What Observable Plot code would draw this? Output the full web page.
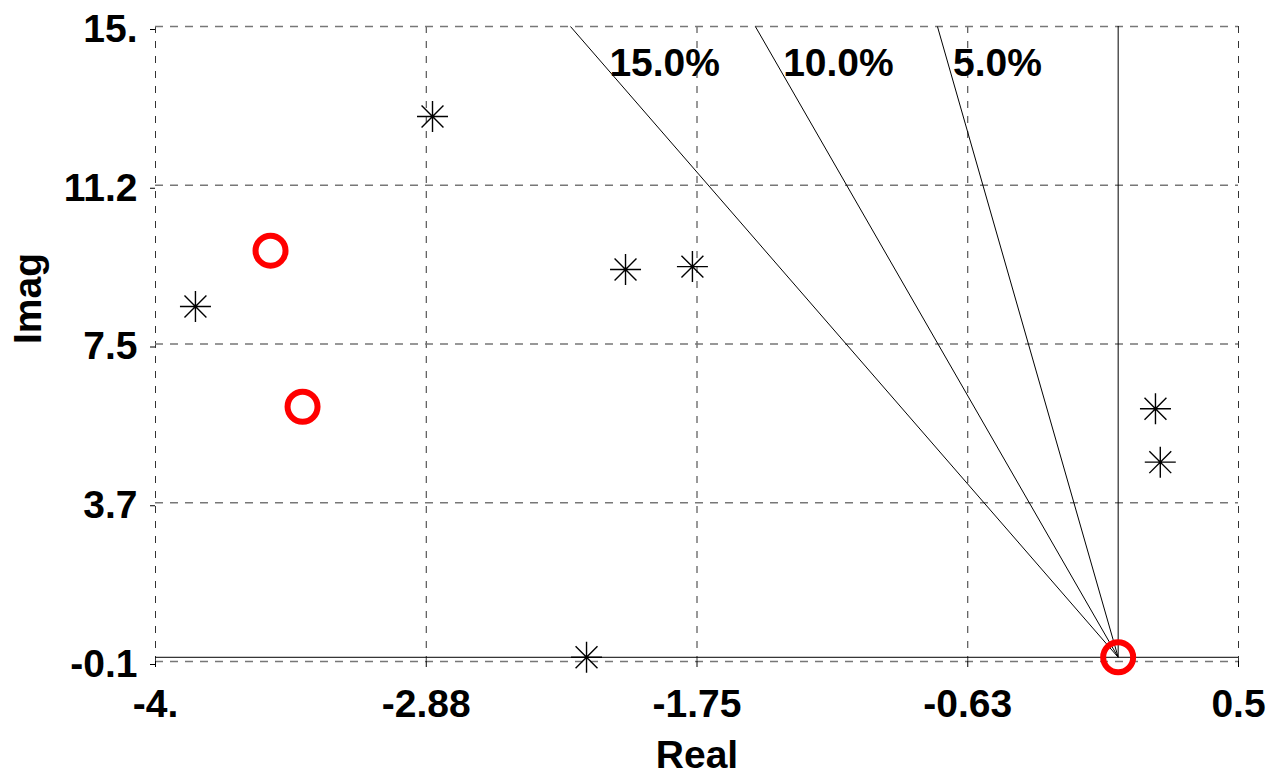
<!DOCTYPE html>
<html>
<head>
<meta charset="utf-8">
<script src="https://cdn.jsdelivr.net/npm/d3@7"></script>
<script src="https://cdn.jsdelivr.net/npm/@observablehq/plot@0.6"></script>
<style>
  html, body { margin: 0; padding: 0; background: #fff; }
  #chart svg { display: block; }
</style>
</head>
<body>
<div id="chart"></div>
<script>
// Axis ticks and labels
const xTicks = [-4, -2.875, -1.75, -0.625, 0.5];
const xTickLabels = ["-4.", "-2.88", "-1.75", "-0.63", "0.5"];
const yTicks = [-0.1, 3.675, 7.45, 11.225, 15];
const yTickLabels = ["-0.1", "3.7", "7.5", "11.2", "15."];

// Poles (stars)
const poleReal = [-2.849, -3.834, -2.047, -1.769, -2.209, 0.155, 0.175];
const poleImag = [12.86, 8.34, 9.22, 9.29, 0.0, 5.91, 4.64];

// Zeros (red circles)
const zeroReal = [-3.522, -3.389, 0.0];
const zeroImag = [9.67, 5.96, 0.0];

// Damping-ratio lines and labels
const zetas = [0.05, 0.10, 0.15];
const zetaLabels = ["5.0%", "10.0%", "15.0%"];
const zetaLabelX = [-0.686, -1.392, -2.114];
const zetaLabelY = [14.13, 14.13, 14.13];

const yTop = 15;
const poles = poleReal.map((x, i) => ({x, y: poleImag[i]}));
const zeros = zeroReal.map((x, i) => ({x, y: zeroImag[i]}));
const dampLines = zetas.map(z => ({z, xTop: -yTop * z / Math.sqrt(1 - z * z)}));
const dampText = zetaLabels.map((t, i) => ({t, x: zetaLabelX[i], y: zetaLabelY[i]}));

const star8 = {
  draw(ctx, size) {
    const r = Math.sqrt(size / Math.PI);
    const d = r * Math.SQRT1_2;
    ctx.moveTo(-r, 0); ctx.lineTo(r, 0);
    ctx.moveTo(0, -r); ctx.lineTo(0, r);
    ctx.moveTo(-d, -d); ctx.lineTo(d, d);
    ctx.moveTo(-d, d); ctx.lineTo(d, -d);
  }
};

const FS = 39;

const chart = Plot.plot({
  width: 1270,
  height: 778,
  marginLeft: 155,
  marginRight: 32,
  marginTop: 26,
  marginBottom: 117,
  style: {fontFamily: "'Liberation Sans', Arial, sans-serif", fontWeight: "bold", background: "#fff", color: "#000"},
  x: {domain: [-4, 0.5]},
  y: {domain: [-0.1, 15]},
  marks: [
    Plot.gridX(xTicks, {stroke: "#333", strokeOpacity: 1, strokeWidth: 1, strokeDasharray: "7,8"}),
    Plot.gridY(yTicks, {stroke: "#777", strokeOpacity: 1, strokeWidth: 1.3, strokeDasharray: "8,7"}),
    Plot.ruleY([0], {stroke: "#000", strokeWidth: 1}),
    Plot.ruleX([0], {y1: 0, y2: yTop, stroke: "#000", strokeWidth: 1}),
    Plot.link(dampLines, {x1: 0, y1: 0, x2: "xTop", y2: yTop, stroke: "#000", strokeWidth: 1}),
    Plot.axisX(xTicks, {
      tickSize: 6, tickPadding: 22, fontSize: FS, fontWeight: "bold", label: null,
      tickFormat: (d) => xTickLabels[xTicks.indexOf(d)]
    }),
    Plot.axisY(yTicks, {
      tickSize: 5, tickPadding: 13, fontSize: FS, fontWeight: "bold", label: null, dy: 3,
      tickFormat: (d) => yTickLabels[yTicks.indexOf(d)]
    }),
    Plot.text(["Real"], {frameAnchor: "bottom", dy: 94, fontSize: FS, fontWeight: "bold", lineAnchor: "middle"}),
    Plot.text(["Imag"], {frameAnchor: "left", dx: -127, rotate: -90, fontSize: FS, fontWeight: "bold", lineAnchor: "middle"}),
    Plot.text(dampText, {x: "x", y: "y", text: "t", textAnchor: "start", lineAnchor: "middle", fontSize: FS, fontWeight: "bold"}),
    Plot.dot(poles, {x: "x", y: "y", symbol: star8, r: 15.5, stroke: "#000", strokeWidth: 1.4, fill: "none"}),
    Plot.dot(zeros, {x: "x", y: "y", r: 15, stroke: "#ff0000", strokeWidth: 6, fill: "none"})
  ]
});
document.getElementById("chart").appendChild(chart);
</script>
</body>
</html>
